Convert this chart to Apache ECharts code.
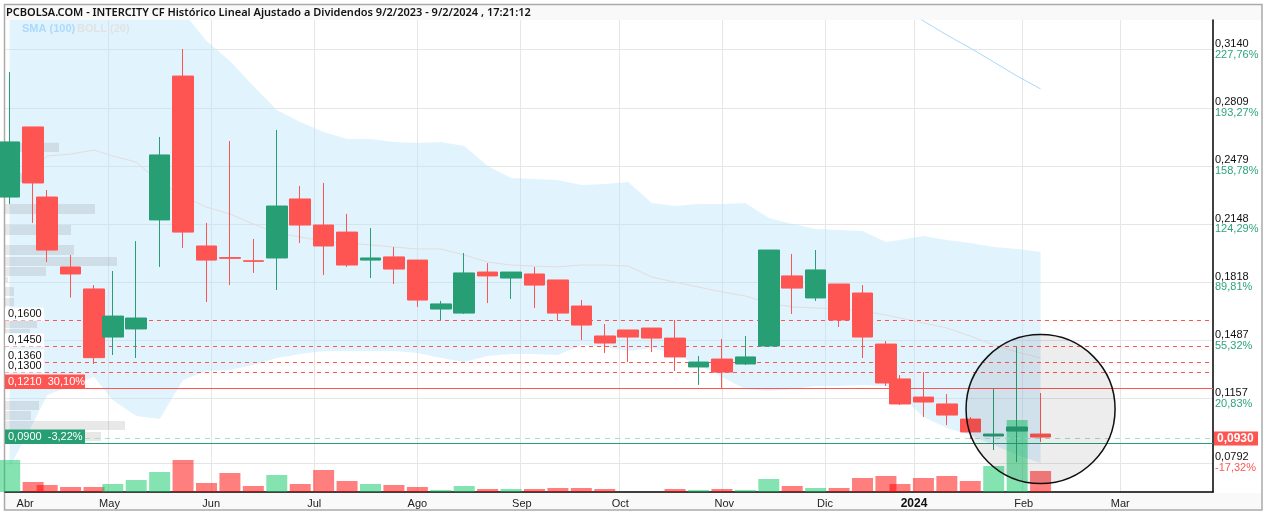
<!DOCTYPE html>
<html>
<head>
<meta charset="utf-8">
<title>INTERCITY CF</title>
<script src="https://cdn.jsdelivr.net/npm/echarts@6/dist/echarts.min.js"></script>
<style>
html, body { margin: 0; padding: 0; background: #fff; }
#main { width: 1267px; height: 515px; }
</style>
</head>
<body>
<div id="main"></div>
<script>
// trading session number of every weekly candle (holiday weeks are shorter)
var sessions = [1, 6, 9, 14, 19, 23, 28, 33, 38, 43, 48, 53, 58, 63, 68, 73, 78, 83, 88, 93, 98, 103, 108, 113, 118, 123, 128, 133, 138, 143, 148, 153, 158, 163, 168, 173, 178, 183, 188, 191, 196, 201, 206, 211, 216, 221];

var opens = [.2302, .2700, .2302, .1905, .1780, .1507, .1553, .2172, .2989, .2024, .1958, .1940, .1956, .2291, .2143, .2103, .1944, .1962, .1944, .1666, .1643, .1876, .1842, .1865, .1831, .1683, .1513, .1547, .1558, .1501, .1337, .1382, .1354, .1456, .1854, .1729, .1808, .1757, .1467, .1269, .1166, .1127, .1041, .0945, .0973, .0956];
var closes = [.2615, .2382, .2001, .1865, .1390, .1626, .1615, .2541, .2103, .1944, .1954, .1937, .2251, .2143, .2024, .1916, .1956, .1893, .1717, .1695, .1871, .1854, .1876, .1802, .1643, .1575, .1473, .1507, .1501, .1394, .1365, .1308, .1394, .2001, .1785, .1888, .1604, .1507, .1246, .1127, .1138, .1064, .0968, .0956, .0996, .0939];
var lows = [.2262, .2155, .1933, .1731, .1354, .1405, .1388, .1905, .2013, .1706, .1802, .1871, .1774, .2041, .1859, .1905, .1842, .1808, .1678, .1604, .1638, .1700, .1723, .1672, .1604, .1490, .1416, .1365, .1422, .1314, .1235, .1218, .1348, .1450, .1638, .1712, .1564, .1388, .1229, .1121, .1053, .1007, .0928, .0865, .0797, .0911];
var highs = [.3012, .2700, .2342, .1973, .1802, .1882, .2052, .2643, .3143, .2155, .2620, .2064, .2683, .2365, .2382, .2206, .2126, .2018, .1944, .1712, .1984, .1927, .1876, .1905, .1831, .1717, .1581, .1547, .1558, .1604, .1399, .1496, .1513, .2001, .1979, .2001, .1808, .1802, .1484, .1291, .1308, .1183, .1053, .1212, .1450, .1189];
// relative volume
var volumes = [32, 10, 7, 5, 5, 8, 12, 20, 32, 9, 19, 6, 17, 8, 22, 11, 8, 7, 5, 2, 6, 3, 3, 3, 4, 4, 3, 0, 0, 3, 2, 3, 2, 13, 6, 4, 4, 14, 16, 8, 14, 16, 11, 26, 72, 21];

var bollUpper = [.39, .39, .39, .39, .385, .38, .37, .355, .3353, .3188, .3075, .2933, .2796, .2728, .2671, .2632, .2632, .2615, .2609, .2615, .2592, .2478, .2410, .2404, .2399, .2370, .2376, .2387, .2268, .2251, .2262, .2262, .2268, .2183, .2149, .2120, .2115, .2109, .2047, .2058, .2081, .2058, .2041, .2018, .2007, .1990];
var bollLower = [.0769, .1019, .1178, .1229, .1280, .1149, .1059, .1041, .1263, .1314, .1320, .1348, .1388, .1411, .1428, .1428, .1428, .1428, .1416, .1388, .1365, .1399, .1411, .1411, .1405, .1462, .1450, .1428, .1445, .1411, .1348, .1280, .1212, .1201, .1212, .1229, .1229, .1235, .1229, .1178, .1053, .0990, .0951, .0894, .0837, .0792];
var bollMiddle = [null, .2467, .2535, .2546, .2569, .2535, .2501, .2387, .2308, .2245, .2206, .2149, .2098, .2075, .2052, .2041, .2030, .2018, .2007, .2007, .1973, .1933, .1916, .1910, .1905, .1916, .1916, .1910, .1848, .1819, .1791, .1763, .1740, .1700, .1678, .1672, .1666, .1655, .1632, .1615, .1587, .1558, .1513, .1462, .1422, .1388];

var smaSessions = [191, 196, 201, 206, 211, 216, 221];
var smaValues = [.3387, .3302, .3222, .3148, .3069, .2989, .2916];

// volume at price, left edge of the chart
var profileLow = [.2558, .2387, .2206, .2086, .1973, .1910, .1854, .1819, .1740, .1683, .1558, .1530, .1093, .1036, .0979, .0917];
var profileHigh = [.2611, .2439, .2262, .2143, .2030, .1962, .1905, .1848, .1791, .1729, .1598, .1553, .1144, .1087, .1030, .0968];
var profileVolume = [54, 17, 90, 66, 69, 112, 41, 3, 9, 9, 32, 25, 34, 26, 120, 96];

var priceTicks = [.3140, .2809, .2479, .2148, .1818, .1487, .1157, .0792];
var priceTickLabels = ['0,3140', '0,2809', '0,2479', '0,2148', '0,1818', '0,1487', '0,1157', '0,0792'];
var priceTickPcts = ['227,76%', '193,27%', '158,78%', '124,29%', '89,81%', '55,32%', '20,83%', '-17,32%'];

var monthTicks = [22, 44, 66, 88, 110, 131, 153, 175, 194, 217, 238];
var monthLabelSessions = [4.3, 22.3, 44, 66, 88, 110.3, 131.3, 153.5, 175, 194, 217.4, 238];
var monthLabels = ['Abr', 'May', 'Jun', 'Jul', 'Ago', 'Sep', 'Oct', 'Nov', 'Dic', '2024', 'Feb', 'Mar'];

// price levels, the labels carry the rounded text
var supportLevels = [.16009, .14533, .13624, .13056];
var supportLabels = ['0,1600', '0,1450', '0,1360', '0,1300'];
var resistanceLevel = .12148;
var lowLevel = .09024;
var lastLevel = .09308;

var GREEN = '#279e74';
var RED = '#ff5552';
var FONT = '"Liberation Sans", Arial, sans-serif';

var chartDom = document.getElementById('main');
var myChart = echarts.init(chartDom);

var candleData = sessions.map(function (s, i) {
    return [s, opens[i], closes[i], lows[i], highs[i]];
});
var volumeData = sessions.map(function (s, i) {
    return {
        value: [s, volumes[i]],
        itemStyle: { color: closes[i] >= opens[i] ? 'rgba(10,200,100,0.5)' : 'rgba(255,0,0,0.5)' }
    };
});
var profileData = profileVolume.map(function (v, i) {
    return [v, profileLow[i], profileHigh[i]];
});

var levelLines = supportLevels.map(function (level, i) {
    return {
        yAxis: level,
        lineStyle: { color: RED, type: [4, 4], width: 1 },
        label: {
            show: true, position: 'insideStartTop', distance: 0, formatter: supportLabels[i],
            color: '#111', fontSize: 11, fontFamily: FONT, backgroundColor: '#fff',
            width: 33, padding: [1, 3], lineHeight: 11
        }
    };
});
levelLines.push({
    yAxis: resistanceLevel,
    lineStyle: { color: RED, type: 'solid', width: 1 },
    label: {
        show: true, position: 'insideStartTop', distance: 0, formatter: '0,1210  30,10%',
        color: '#fff', fontSize: 11, fontFamily: FONT, backgroundColor: RED,
        width: 74, padding: [1, 3], lineHeight: 12
    }
});
levelLines.push({
    yAxis: lowLevel,
    lineStyle: { color: GREEN, type: 'solid', width: 1 },
    label: {
        show: true, position: 'insideStartTop', distance: 0, formatter: '0,0900  -3,22%',
        color: '#fff', fontSize: 11, fontFamily: FONT, backgroundColor: GREEN,
        width: 74, padding: [1, 3], lineHeight: 12
    }
});
levelLines.push({
    yAxis: lastLevel,
    lineStyle: { color: '#a5dfc4', type: [5, 5], width: 1 },
    label: {
        show: true, position: 'end', distance: 1, formatter: '0,0930',
        color: '#fff', fontSize: 12, fontFamily: FONT, fontWeight: 'bold', backgroundColor: RED,
        width: 38, padding: [1, 3], lineHeight: 12
    }
});

var option = {
    animation: false,
    backgroundColor: '#fff',
    textStyle: { fontFamily: FONT },
    title: [
        {
            text: 'PCBOLSA.COM - INTERCITY CF Histórico Lineal Ajustado a Dividendos 9/2/2023 - 9/2/2024 , 17:21:12',
            left: 6, top: 5, padding: 0,
            textStyle: { fontFamily: '"Noto Sans"', fontSize: 11, fontWeight: 600, color: '#111', lineHeight: 15 }
        },
        {
            text: 'SMA (100)', left: 22, top: 23, padding: 0,
            textStyle: { fontFamily: FONT, fontSize: 11, fontWeight: 'bold', color: '#acdafc', lineHeight: 12 }
        },
        {
            text: 'BOLL (20)', left: 77, top: 23, padding: 0,
            textStyle: { fontFamily: FONT, fontSize: 11, fontWeight: 'bold', color: '#e2e2e2', lineHeight: 12 }
        }
    ],
    graphic: [
        { type: 'rect', z: -10, shape: { x: 5, y: 5, width: 1257, height: 15 }, style: { fill: '#f9f9f9' } },
        { type: 'rect', z: -10, shape: { x: 5, y: 493, width: 1257, height: 17 }, style: { fill: '#f9f9f9' } },
        { type: 'rect', z: -5, shape: { x: 4.5, y: 4.5, width: 1257.5, height: 505.5 }, style: { fill: 'none', stroke: '#aaa', lineWidth: 1.5 } }
    ],
    grid: { left: 5, right: 54, top: 20, bottom: 23, containLabel: false },
    xAxis: [
        {
            type: 'value', min: 0, max: 257.8, scale: true,
            axisLine: { show: true, onZero: false, lineStyle: { color: '#000', width: 1.5 } },
            axisTick: { show: false, customValues: monthTicks },
            splitLine: { show: true, lineStyle: { color: '#e6e6e6', width: 1 } },
            axisLabel: {
                customValues: monthLabelSessions, margin: 6, color: '#222',
                fontSize: 11, fontFamily: FONT, hideOverlap: false,
                formatter: function (val) {
                    var label = monthLabels[monthLabelSessions.indexOf(val)];
                    return label === '2024' ? '{b|2024}' : label;
                },
                rich: { b: { fontWeight: 'bold', fontSize: 12, fontFamily: FONT, color: '#111' } }
            }
        },
        { type: 'value', min: 0, max: 1208, show: false }
    ],
    yAxis: [
        {
            type: 'value', position: 'right', min: .0627, max: .33074, scale: true,
            axisLine: { show: true, onZero: false, lineStyle: { color: '#000', width: 1.5 } },
            axisTick: { show: false, customValues: priceTicks },
            splitLine: { show: true, lineStyle: { color: '#e6e6e6', width: 1 } },
            axisLabel: {
                customValues: priceTicks, margin: 2, align: 'left', hideOverlap: false,
                formatter: function (val) {
                    var i = priceTicks.indexOf(val);
                    var pct = priceTickPcts[i];
                    return '{p|' + priceTickLabels[i] + '}\n{' + (pct.charAt(0) === '-' ? 'r' : 'g') + '|' + pct + '}';
                },
                rich: {
                    p: { color: '#111', fontSize: 11, lineHeight: 10, fontFamily: FONT },
                    g: { color: '#2ca57c', fontSize: 11, lineHeight: 11, fontFamily: FONT },
                    r: { color: RED, fontSize: 11, lineHeight: 11, fontFamily: FONT }
                }
            }
        },
        { type: 'value', min: 0, max: 472, show: false }
    ],
    series: [
        {
            // one polygon between the upper and the lower bollinger band
            name: 'band', type: 'custom', data: [[sessions[0], bollLower[0]]], clip: true, z: 1, silent: true,
            renderItem: function (params, api) {
                var points = [];
                sessions.forEach(function (s, i) { points.push(api.coord([s, bollUpper[i]])); });
                for (var i = sessions.length - 1; i >= 0; i--) {
                    points.push(api.coord([sessions[i], bollLower[i]]));
                }
                return { type: 'polygon', shape: { points: points }, style: { fill: 'rgba(180,224,250,0.4)' } };
            }
        },
        {
            name: 'BOLL (20)', type: 'line', data: sessions.map(function (s, i) { return [s, bollMiddle[i]]; }),
            symbol: 'none', lineStyle: { color: '#e4dcdc', width: 1 }, z: 2
        },
        {
            name: 'SMA (100)', type: 'line', data: smaSessions.map(function (s, i) { return [s, smaValues[i]]; }),
            symbol: 'none', lineStyle: { color: '#a8d8fb', width: 1 }, z: 2
        },
        {
            name: 'profile', type: 'custom', xAxisIndex: 1, yAxisIndex: 0, data: profileData, z: 3,
            encode: { x: 0, y: [1, 2] },
            renderItem: function (params, api) {
                var a = api.coord([0, api.value(2)]);
                var b = api.coord([api.value(0), api.value(1)]);
                return {
                    type: 'rect',
                    shape: { x: a[0], y: a[1], width: b[0] - a[0], height: b[1] - a[1] },
                    style: { fill: 'rgba(120,120,120,0.17)' }
                };
            }
        },
        {
            name: 'volume', type: 'bar', yAxisIndex: 1, data: volumeData, barWidth: 21, z: 4
        },
        {
            name: 'INTERCITY', type: 'candlestick', data: candleData, barWidth: 21, z: 5,
            encode: { x: 0, y: [1, 2, 3, 4] },
            itemStyle: { color: GREEN, color0: RED, borderColor: GREEN, borderColor0: RED, borderWidth: 1 },
            markLine: {
                silent: true, symbol: 'none', animation: false, precision: 5,
                data: levelLines
            }
        },
        {
            name: 'circle', type: 'scatter', data: [[221, .1098]], symbol: 'circle', symbolSize: 149, z: 8, silent: true,
            itemStyle: { color: 'rgba(0,0,0,0.07)', borderColor: '#111', borderWidth: 1.5, opacity: 1 }
        }
    ]
};

myChart.setOption(option);
</script>
</body>
</html>
